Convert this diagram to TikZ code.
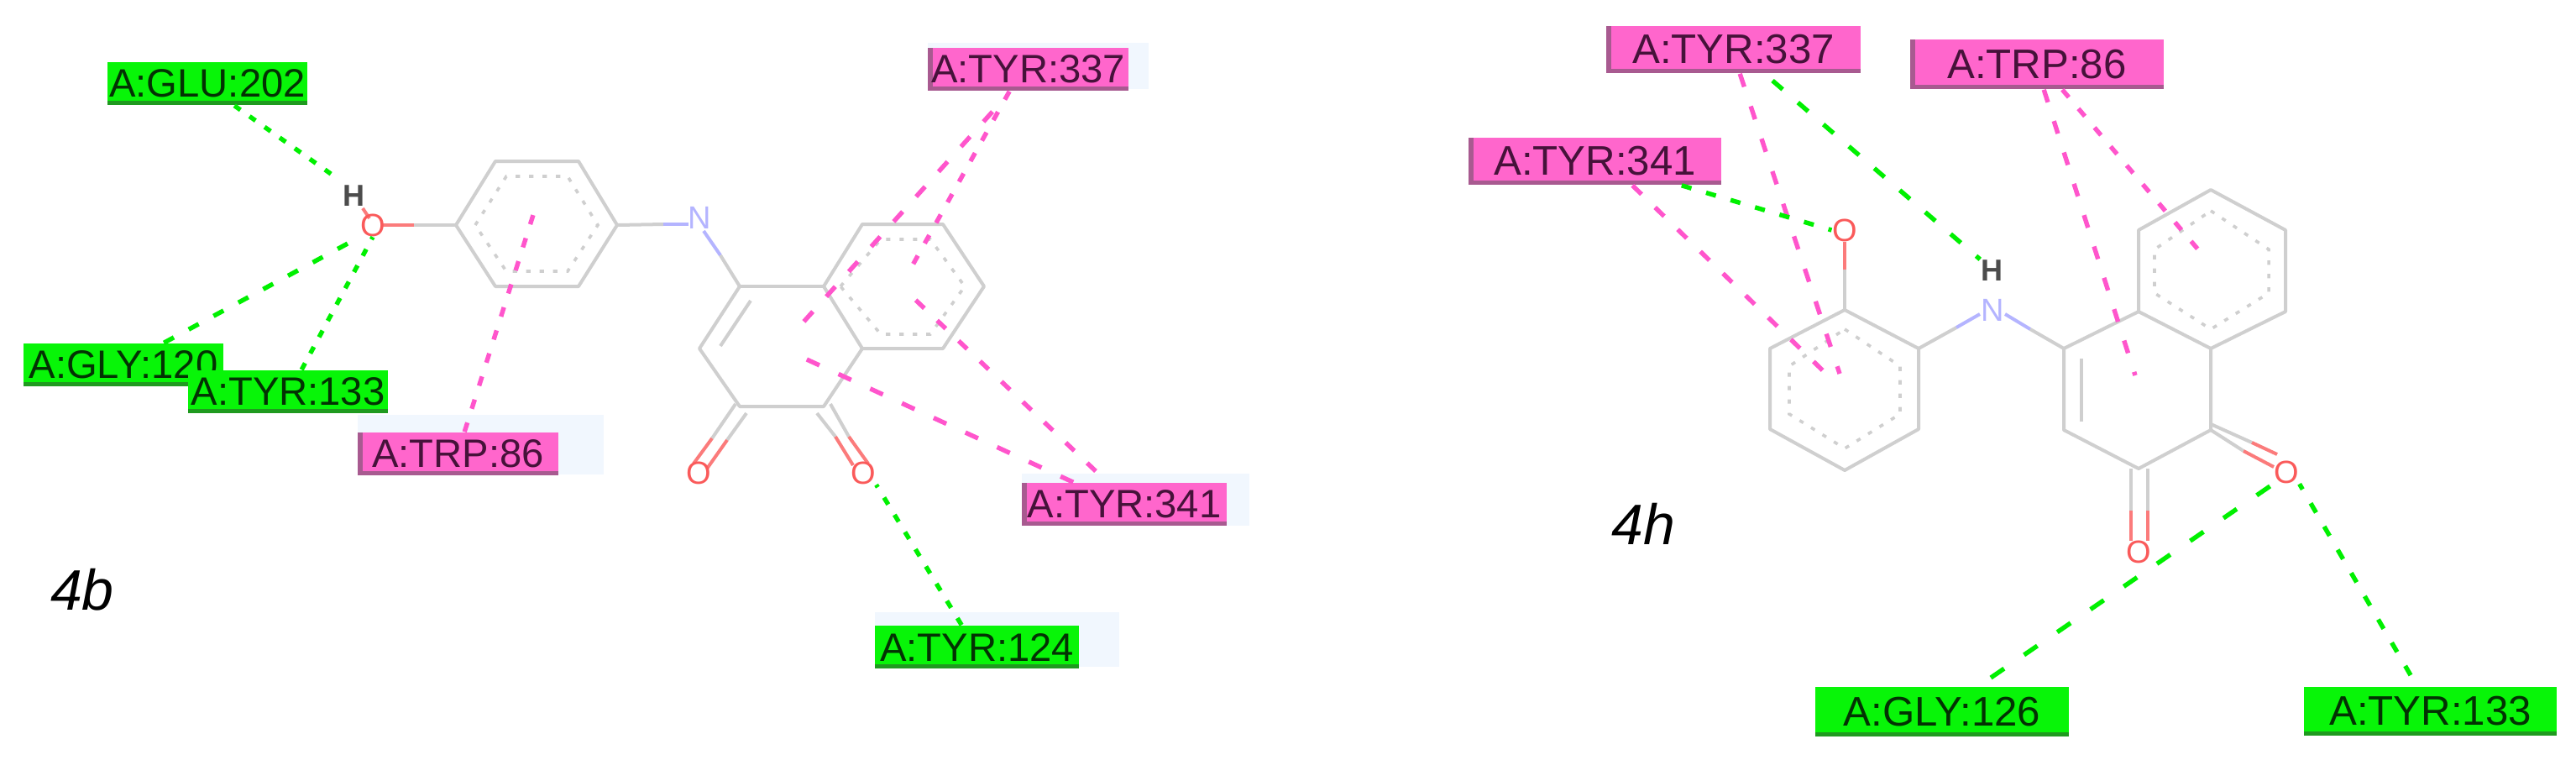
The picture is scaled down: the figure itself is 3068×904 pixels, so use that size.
\documentclass[tikz,border=0pt]{standalone}
\usepackage{fontspec}
\setmainfont{Liberation Sans}
\definecolor{hgreen}{HTML}{08F508}
\definecolor{hgreendk}{HTML}{1F9A1F}
\definecolor{hpink}{HTML}{FF66CC}
\definecolor{hpinkdk}{HTML}{A85A90}
\definecolor{bondgray}{HTML}{CFCFCF}
\definecolor{oxred}{HTML}{FA5A5A}
\definecolor{nblue}{HTML}{B4B4FF}
\definecolor{palebg}{HTML}{F1F7FE}
\definecolor{hbline}{HTML}{00F000}
\definecolor{piline}{HTML}{FF55CC}
\tikzset{
  x=0.25pt,y=-0.25pt,
  reslabel/.style={inner sep=0pt,font=\fontsize{11.8}{12}\selectfont},
  greenlab/.style={reslabel,fill=hgreen,text={rgb,255:red,3;green,50;blue,3},
    path picture={\fill[hgreendk] ([yshift=1.3pt]path picture bounding box.south west) rectangle (path picture bounding box.south east);}},
  pinklab/.style={reslabel,fill=hpink,text={rgb,255:red,70;green,18;blue,58},
    path picture={\fill[hpinkdk] ([yshift=1.3pt]path picture bounding box.south west) rectangle (path picture bounding box.south east);
    \fill[hpinkdk] (path picture bounding box.south west) rectangle ([xshift=1.5pt]path picture bounding box.north west);}},
  bond/.style={draw=bondgray,line width=1pt,line join=round},
  arom/.style={draw=bondgray,line width=0.9pt,dash pattern=on 1.3pt off 2.7pt},
  obond/.style={draw=oxred,line width=1pt,opacity=0.8},
  nbond/.style={draw=nblue,line width=1pt},
  hbond/.style={draw=hbline,line width=1.35pt,dash pattern=on 0.8*#1 off 1.2*#1},
  pibond/.style={draw=piline,line width=1.35pt,dash pattern=on 0.8*#1 off 1.2*#1},
  oatom/.style={inner sep=0pt,text=oxred,font=\fontsize{9.5}{10}\selectfont},
  natom/.style={inner sep=0pt,text=nblue,font=\fontsize{9.5}{10}\selectfont},
  hatom/.style={inner sep=0pt,text=black!70,font=\fontsize{9}{10}\bfseries\selectfont},
  compound/.style={inner sep=0pt,font=\fontsize{17}{18}\itshape\selectfont},
  pale/.style={fill=palebg,draw=none}
}
\newcommand\lab[7]{\node[#2,minimum width={(#5-#3)*0.25pt},minimum height={(#6-#4)*0.25pt}] (#1) at ({(#3+#5)/2},{(#4+#6)/2}) {#7};}
\begin{document}
\begin{tikzpicture}
\useasboundingbox (0,0) rectangle (3068,904);
\fill[white] (0,0) rectangle (3068,904);
% pale backgrounds
\fill[pale] (426,494) rectangle (719,565);
\fill[pale] (1105,51) rectangle (1368,106);
\fill[pale] (1217,564) rectangle (1488,626);
\fill[pale] (1042,729) rectangle (1333,794);
% ---------- 4b skeleton
\coordinate (a1) at (543,268); \coordinate (a2) at (590,192); \coordinate (a3) at (689,192);
\coordinate (a4) at (735,268); \coordinate (a5) at (689,341); \coordinate (a6) at (590,341);
\coordinate (ac) at (639,268);
\draw[bond] (a1)--(a2)--(a3)--(a4)--(a5)--(a6)--cycle;
\draw[arom] (566,268)--(603,210)--(676,210)--(712,268)--(676,323)--(603,323)--cycle;
\coordinate (b1) at (881,341); \coordinate (b2) at (981,341); \coordinate (b3) at (1027,267);
\coordinate (b4) at (1123,267); \coordinate (b5) at (1172,341); \coordinate (b6) at (1123,415);
\coordinate (b7) at (1027,415); \coordinate (b8) at (981,484); \coordinate (b9) at (881,484);
\coordinate (b10) at (833,415);
\draw[bond] (b2)--(b3)--(b4)--(b5)--(b6)--(b7)--cycle;
\draw[arom] (1001,341)--(1049,285)--(1108,285)--(1149,341)--(1108,398)--(1049,398)--cycle;
\draw[bond] (b1)--(b2);
\draw[bond] (b1)--(b10)--(b9)--(b8)--(b7);
\draw[bond] (894,358)--(858,412);
\draw[bond] (a4)--(790,267);
\draw[nbond] (790,267)--(820,267);
\draw[nbond] (838,275)--(858,304);
\draw[bond] (858,304)--(b1);
% atoms 4b
\draw[bond] (a1)--(493,268);
\draw[obond] (493,268)--(456,268);
\draw[obond] (432,248)--(440,260);
\node[oatom] (obO) at (444,268) {O};
\node[hatom] (obH) at (421,233) {H};
\node[natom] (obN) at (833,259) {N};
% C=O 4b
\draw[bond] (b9)++(-5,-3)--(848,522);
\draw[obond] (848,522)--(826,552);
\draw[bond] (b9)++(8,8)--(866,524);
\draw[obond] (866,524)--(842,558);
\draw[bond] (b8)++(-8,8)--(995,520);
\draw[obond] (995,520)--(1016,554);
\draw[bond] (b8)++(8,-3)--(1011,520);
\draw[obond] (1011,520)--(1034,552);
\node[oatom] (obO2) at (832,563) {O};
\node[oatom] (obO3) at (1028,563) {O};
% labels 4b
\lab{glu}{greenlab}{128}{74}{366}{125}{A:GLU:202}
\lab{gly}{greenlab}{28}{409}{266}{460}{A:GLY:120}
\lab{tyrl}{greenlab}{224}{441}{462}{492}{A:TYR:133}
\lab{trpl}{pinklab}{426}{515}{665}{566}{A:TRP:86}
\lab{tyra}{pinklab}{1105}{57}{1344}{108}{A:TYR:337}
\lab{tyrb}{pinklab}{1217}{575}{1461}{626}{A:TYR:341}
\lab{tyrc}{greenlab}{1042}{745}{1285}{796}{A:TYR:124}
% connectors 4b
\draw[hbond=2.75pt] ([xshift=38pt]glu.south west) -- ([xshift=-3pt,yshift=3pt]obH.north west);
\draw[hbond=4.2pt] ([xshift=42pt]gly.north west) -- (obO.south west);
\draw[hbond=2.75pt] ([xshift=34pt]tyrl.north west) -- (obO.south);
\draw[pibond=3.6pt] ([xshift=32pt]trpl.north west) -- ([xshift=-1pt,yshift=3pt]ac);
\coordinate (t1) at (942,400); \coordinate (t2) at (1080,328);
\coordinate (t3) at (950,423); \coordinate (t4) at (1085,352);
\draw[pibond=5pt] (1182,133) -- (t1);
\draw[pibond=3.5pt] ([xshift=24.5pt]tyra.south west) -- (t2);
\draw[pibond=5.2pt] ([xshift=15.5pt]tyrb.north west) -- (t3);
\draw[pibond=4.4pt] (1305,561) -- (t4);
\draw[hbond=3pt] ([xshift=26pt]tyrc.north west) -- (obO3.south east);
\node[compound] (lb) at (98,702) {4b};
% ---------- 4h skeleton
\coordinate (c1) at (2197,369); \coordinate (c2) at (2285,415); \coordinate (c3) at (2285,511);
\coordinate (c4) at (2197,560); \coordinate (c5) at (2108,511); \coordinate (c6) at (2108,415);
\draw[bond] (c1)--(c2)--(c3)--(c4)--(c5)--(c6)--cycle;
\draw[arom] (2197,392)--(2263,436)--(2263,493)--(2197,534)--(2131,493)--(2131,436)--cycle;
\coordinate (d1) at (2458,415); \coordinate (d2) at (2547,371); \coordinate (d3) at (2547,274);
\coordinate (d4) at (2633,226); \coordinate (d5) at (2722,274); \coordinate (d6) at (2722,371);
\coordinate (d7) at (2633,415); \coordinate (d8) at (2633,512); \coordinate (d9) at (2547,558);
\coordinate (d10) at (2458,512);
\draw[bond] (d2)--(d3)--(d4)--(d5)--(d6)--(d7)--cycle;
\draw[arom] (2633,251)--(2702,297)--(2702,349)--(2633,392)--(2566,349)--(2566,297)--cycle;
\draw[bond] (d1)--(d2);
\draw[bond] (d1)--(d10)--(d9)--(d8)--(d7);
\draw[bond] (2479,427)--(2479,502);
\draw[bond] (c1)--(2197,321);
\draw[obond] (2197,321)--(2197,288);
\draw[bond] (c2)--(2330,390);
\draw[nbond] (2330,390)--(2358,374);
\draw[nbond] (2388,374)--(2418,392);
\draw[bond] (2418,392)--(d1);
\draw[bond] (2538,558)--(2538,608);
\draw[obond] (2538,608)--(2538,644);
\draw[bond] (2558,558)--(2558,608);
\draw[obond] (2558,608)--(2558,644);
\draw[bond] (2633,505)--(2682,527);
\draw[obond] (2682,527)--(2712,541);
\draw[bond] (d8)--(2672,537);
\draw[obond] (2672,537)--(2708,556);
\node[oatom] (ohO) at (2197,274) {O};
\node[natom] (ohN) at (2373,369) {N};
\node[hatom] (ohH) at (2372,322) {H};
\node[oatom] (ohO2) at (2723,562) {O};
\node[oatom] (ohO3) at (2547,657) {O};
% labels 4h
\lab{hty}{pinklab,font=\fontsize{12.3}{13}\selectfont}{1913}{31}{2216}{87}{A:TYR:337}
\lab{htr}{pinklab,font=\fontsize{12.3}{13}\selectfont}{2275}{47}{2577}{106}{A:TRP:86}
\lab{htz}{pinklab,font=\fontsize{12.3}{13}\selectfont}{1749}{164}{2050}{220}{A:TYR:341}
\lab{hgl}{greenlab,font=\fontsize{12.3}{13}\selectfont}{2162}{818}{2464}{877}{A:GLY:126}
\lab{hth}{greenlab,font=\fontsize{12.3}{13}\selectfont}{2744}{818}{3045}{876}{A:TYR:133}
% connectors 4h
\coordinate (e1) at (2182,452); \coordinate (e2) at (2191,445);
\coordinate (e3) at (2543,447); \coordinate (e4) at (2628,309);
\draw[pibond=4.7pt] ([xshift=49pt]htz.south west) -- (e1);
\draw[pibond=5.1pt] ([xshift=40pt]hty.south west) -- (e2);
\draw[hbond=5pt] (2111,96) -- (ohH.north west);
\draw[hbond=3.8pt] ([xshift=-12pt]htz.south east) -- (ohO.west);
\draw[pibond=4.9pt] ([xshift=40pt]htr.south west) -- (e3);
\draw[pibond=3.7pt] ([xshift=45.5pt]htr.south west) -- (e4);
\draw[hbond=6pt] (2371,807) -- (ohO2.south west);
\draw[hbond=4pt] (2871,804) -- (ohO2.south east);
\node[compound] (lh) at (1957,624) {4h};
\end{tikzpicture}
\end{document}
